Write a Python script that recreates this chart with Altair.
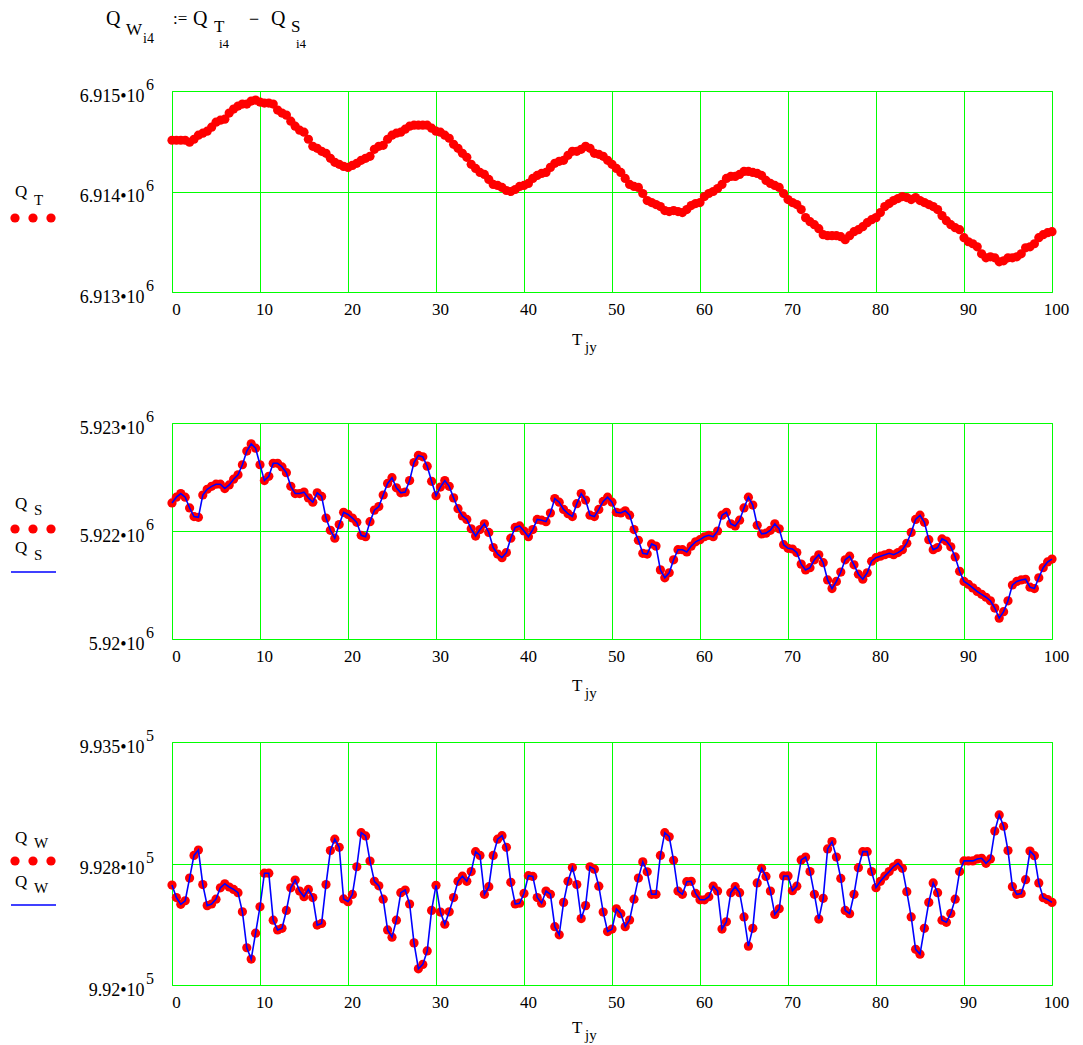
import altair as alt
import pandas as pd

# ---------------- data ----------------
t_jy = [k * 0.5 for k in range(201)]

QT = [
    6914510, 6914510, 6914510, 6914510, 6914490, 6914520, 6914560, 6914580, 6914600, 6914640,
    6914690, 6914710, 6914720, 6914780, 6914820, 6914850, 6914870, 6914870, 6914900, 6914910,
    6914890, 6914880, 6914880, 6914870, 6914810, 6914780, 6914760, 6914700, 6914650, 6914610,
    6914590, 6914520, 6914450, 6914430, 6914400, 6914380, 6914330, 6914290, 6914270, 6914250,
    6914240, 6914260, 6914280, 6914310, 6914330, 6914350, 6914420, 6914450, 6914460, 6914520,
    6914560, 6914580, 6914590, 6914620, 6914650, 6914660, 6914660, 6914660, 6914660, 6914630,
    6914600, 6914590, 6914560, 6914530, 6914470, 6914430, 6914380, 6914340, 6914270, 6914230,
    6914190, 6914170, 6914120, 6914070, 6914060, 6914040, 6914010, 6914000, 6914020, 6914050,
    6914060, 6914080, 6914130, 6914160, 6914180, 6914190, 6914240, 6914280, 6914300, 6914310,
    6914360, 6914400, 6914400, 6914420, 6914450, 6914430, 6914380, 6914370, 6914350, 6914310,
    6914270, 6914230, 6914190, 6914130, 6914070, 6914050, 6914040, 6913980, 6913910, 6913890,
    6913870, 6913850, 6913810, 6913800, 6913810, 6913800, 6913790, 6913820, 6913860, 6913880,
    6913890, 6913950, 6913980, 6914000, 6914030, 6914070, 6914130, 6914150, 6914150, 6914170,
    6914200, 6914200, 6914190, 6914180, 6914160, 6914110, 6914080, 6914060, 6914040, 6913980,
    6913920, 6913890, 6913870, 6913820, 6913740, 6913700, 6913670, 6913630, 6913570, 6913560,
    6913560, 6913560, 6913550, 6913520, 6913560, 6913600, 6913620, 6913650, 6913690, 6913720,
    6913740, 6913790, 6913850, 6913880, 6913910, 6913930, 6913950, 6913940, 6913920, 6913940,
    6913910, 6913890, 6913870, 6913850, 6913820, 6913760, 6913710, 6913670, 6913640, 6913620,
    6913540, 6913500, 6913480, 6913450, 6913380, 6913340, 6913350, 6913340, 6913300, 6913310,
    6913340, 6913340, 6913350, 6913380, 6913440, 6913450, 6913480, 6913540, 6913570, 6913590,
    6913600,
]

QS = [
    5921890, 5921970, 5922020, 5921970, 5921820, 5921700, 5921690, 5922000, 5922080, 5922120,
    5922150, 5922150, 5922090, 5922140, 5922220, 5922280, 5922420, 5922610, 5922710, 5922650,
    5922420, 5922200, 5922260, 5922440, 5922440, 5922390, 5922310, 5922120, 5922020, 5922020,
    5922040, 5921960, 5921900, 5922030, 5921980, 5921680, 5921510, 5921400, 5921590, 5921760,
    5921730, 5921680, 5921620, 5921440, 5921420, 5921630, 5921790, 5921840, 5922000, 5922160,
    5922240, 5922100, 5922030, 5922040, 5922200, 5922450, 5922550, 5922530, 5922400, 5922190,
    5921990, 5922110, 5922200, 5922120, 5921960, 5921810, 5921710, 5921660, 5921530, 5921430,
    5921520, 5921600, 5921480, 5921270, 5921180, 5921130, 5921200, 5921400, 5921550, 5921570,
    5921500, 5921420, 5921520, 5921660, 5921650, 5921630, 5921750, 5921950, 5921900, 5921800,
    5921740, 5921700, 5921880, 5922020, 5921930, 5921720, 5921700, 5921800, 5921910, 5921970,
    5921900, 5921760, 5921750, 5921780, 5921720, 5921520, 5921370, 5921190, 5921180, 5921320,
    5921290, 5920960, 5920850, 5920920, 5921100, 5921240, 5921240, 5921210, 5921290, 5921350,
    5921380, 5921420, 5921440, 5921420, 5921500, 5921720, 5921760, 5921600, 5921570, 5921650,
    5921820, 5921970, 5921860, 5921580, 5921460, 5921470, 5921510, 5921600, 5921530, 5921310,
    5921260, 5921250, 5921200, 5921040, 5920960, 5920990, 5921100, 5921170, 5921060, 5920820,
    5920700, 5920800, 5920930, 5921100, 5921150, 5921030, 5920900, 5920830, 5920920, 5921080,
    5921130, 5921150, 5921170, 5921190, 5921170, 5921200, 5921240, 5921330, 5921480, 5921660,
    5921720, 5921620, 5921380, 5921240, 5921270, 5921390, 5921360, 5921280, 5921140, 5920940,
    5920800, 5920760, 5920710, 5920660, 5920620, 5920580, 5920530, 5920430, 5920290, 5920380,
    5920530, 5920750, 5920800, 5920820, 5920830, 5920720, 5920700, 5920850, 5920990, 5921070,
    5921110,
]

QW = [
    992617, 992540, 992498, 992520, 992660, 992800, 992833, 992620, 992490, 992500,
    992530, 992600, 992625, 992605, 992590, 992570, 992452, 992230, 992160, 992320,
    992483, 992690, 992690, 992400, 992340, 992350, 992460, 992600, 992648, 992580,
    992545, 992590, 992540, 992370, 992380, 992620, 992830, 992900, 992850, 992531,
    992514, 992559, 992730, 992940, 992920, 992765, 992640, 992612, 992530, 992340,
    992295, 992400, 992570, 992586, 992500, 992260, 992100, 992127, 992210, 992460,
    992615, 992450, 992375, 992452, 992540, 992640, 992672, 992640, 992700, 992823,
    992800, 992560, 992607, 992800, 992900, 992922, 992850, 992634, 992500, 992505,
    992565, 992675, 992670, 992540, 992505, 992580, 992560, 992360, 992310, 992510,
    992640, 992725, 992620, 992410, 992490, 992730, 992715, 992610, 992450, 992330,
    992345, 992470, 992440, 992360, 992401, 992530, 992660, 992760, 992699, 992560,
    992560, 992800, 992940, 992915, 992770, 992580, 992560, 992638, 992640, 992565,
    992526, 992526, 992545, 992610, 992580, 992345, 992390, 992570, 992607, 992570,
    992420, 992240, 992350, 992630, 992720, 992670, 992580, 992436, 992470, 992673,
    992673, 992582, 992610, 992772, 992790, 992700, 992560, 992407, 992535, 992840,
    992885, 992790, 992658, 992460, 992440, 992560, 992724, 992823, 992823, 992700,
    992601, 992640, 992672, 992700, 992730, 992751, 992720, 992576, 992420, 992220,
    992190, 992350, 992510, 992630, 992570, 992400, 992387, 992442, 992530, 992700,
    992766, 992766, 992766, 992778, 992782, 992751, 992778, 992950, 993050, 992980,
    992830, 992607, 992560, 992565, 992650, 992827, 992798, 992630, 992539, 992527,
    992510,
]

x_ticks = [0, 10, 20, 30, 40, 50, 60, 70, 80, 90, 100]

T_domain = [6913000, 6915000]
T_ticks = [6913000, 6914000, 6915000]
T_labels = ["6.913•10", "6.914•10", "6.915•10"]
T_exp = "6"

S_domain = [5920000, 5923000]
S_ticks = [5920000, 5921500, 5923000]
S_labels = ["5.92•10", "5.922•10", "5.923•10"]
S_exp = "6"

W_domain = [992000, 993500]
W_ticks = [992000, 992750, 993500]
W_labels = ["9.92•10", "9.928•10", "9.935•10"]
W_exp = "5"

# ---------------- style ----------------
FONT = "Liberation Serif"
GRID = "#00ff00"
BORDER = "#22cc22"
RED = "#ff0000"
BLUE = "#0000ff"
PW = 880
H1, H2, H3 = 201, 216, 243
GAP12, GAP23 = 129, 101   # distance between plot areas
BOTTOM_EXT = 71           # reserved space below each plot area
LEFT_EXT = 163            # reserved space left of each plot area
DOT = 85
one = pd.DataFrame({"k": [0]})


def label_expr(vals, labs):
    e = ""
    for v, l in zip(vals, labs):
        e += f"datum.value == {v} ? '{l}' : "
    return e + "''"


def txt(s, x, y, size=17):
    return alt.Chart(one).mark_text(
        font=FONT, fontSize=size, align="left", baseline="alphabetic", color="black"
    ).encode(x=alt.value(x), y=alt.value(y), text=alt.value(s))


def dot(x, y):
    return alt.Chart(one).mark_circle(size=DOT, color=RED, opacity=1).encode(
        x=alt.value(x), y=alt.value(y)
    )


def legend_dots(y):
    return [dot(-157, y), dot(-139, y), dot(-121, y)]


def legend_line(y):
    return alt.Chart(one).mark_rule(color=BLUE, strokeWidth=1.6).encode(
        x=alt.value(-161), x2=alt.value(-116), y=alt.value(y)
    )


def anchor(x, y):
    # invisible 1px box that fixes an edge of a panel's bounds
    return alt.Chart(one).mark_rect(opacity=0).encode(
        x=alt.value(x), x2=alt.value(x + 1), y=alt.value(y), y2=alt.value(y + 1)
    )


def xtitle(h, dy):
    return [txt("T", 400, h + dy, 17), txt("jy", 413, h + dy + 7, 15)]


def panel(df, col, domain, ticks, labels, exp, h, with_line, extra, top_ext, tdy):
    x = alt.X(
        "t:Q",
        scale=alt.Scale(domain=[0, 100], nice=False, zero=False),
        axis=alt.Axis(
            values=x_ticks, title=None, grid=True, gridColor=GRID, gridOpacity=1,
            domain=False, ticks=False, labelFlush=False, labelPadding=9,
            labelOffset=4, labelFont=FONT, labelFontSize=17, labelColor="black",
            labelAngle=0, format="d",
        ),
    )
    y = alt.Y(
        f"{col}:Q",
        scale=alt.Scale(domain=domain, nice=False, zero=False),
        axis=alt.Axis(
            values=ticks, labelExpr=label_expr(ticks, labels), title=None,
            grid=True, gridColor=GRID, gridOpacity=1, domain=False, ticks=False,
            labelPadding=28, labelOffset=10, labelFont=FONT, labelFontSize=18,
            labelColor="black", labelBaseline="alphabetic",
        ),
    )
    base = alt.Chart(df)
    layers = [base.mark_circle(size=DOT, color=RED, opacity=1).encode(x=x, y=y)]
    if with_line:
        layers.append(base.mark_line(color=BLUE, strokeWidth=1.6).encode(x=x, y=y))
    # exponents of the tick labels, placed on the same y scale as the ticks
    exp_df = pd.DataFrame({col: ticks})
    layers.append(
        alt.Chart(exp_df).mark_text(
            font=FONT, fontSize=16, align="left", baseline="alphabetic", color="black", dy=-1
        ).encode(x=alt.value(-26), y=alt.Y(f"{col}:Q"), text=alt.value(exp))
    )
    layers += extra + xtitle(h, tdy)
    layers += [anchor(-LEFT_EXT, -top_ext), anchor(0, h + BOTTOM_EXT - 1)]
    return alt.layer(*layers).properties(width=PW, height=h)


dfT = pd.DataFrame({"t": t_jy, "QT": QT})
dfS = pd.DataFrame({"t": t_jy, "QS": QS})
dfW = pd.DataFrame({"t": t_jy, "QW": QW})

title_parts = [
    txt("Q", -66, -66, 20), txt("W", -46, -56, 17), txt("i4", -29, -48, 14),
    txt(":=", 1, -67, 17),
    txt("Q", 21, -66, 20), txt("T", 42, -59, 17), txt("i4", 47, -43, 13),
    txt("−", 77, -66, 18),
    txt("Q", 99, -66, 20), txt("S", 119, -59, 17), txt("i4", 124, -43, 13),
]

p1_extra = title_parts + [txt("Q", -157, 106, 17), txt("T", -138, 114, 15)] + legend_dots(127)
p2_extra = [
    txt("Q", -157, 86, 17), txt("S", -138, 92, 15),
    *legend_dots(106),
    txt("Q", -157, 130, 17), txt("S", -138, 137, 15),
    legend_line(149),
]
p3_extra = [
    txt("Q", -157, 101, 17), txt("W", -138, 106, 15),
    *legend_dots(119),
    txt("Q", -157, 145, 17), txt("W", -138, 151, 15),
    legend_line(163),
]

p1 = panel(dfT, "QT", T_domain, T_ticks, T_labels, T_exp, H1, False, p1_extra, 82, 53)
p2 = panel(dfS, "QS", S_domain, S_ticks, S_labels, S_exp, H2, True, p2_extra, GAP12 - BOTTOM_EXT, 52)
p3 = panel(dfW, "QW", W_domain, W_ticks, W_labels, W_exp, H3, True, p3_extra, GAP23 - BOTTOM_EXT, 48)

chart = (
    alt.vconcat(p1, p2, p3, spacing=0)
    .properties(padding=0, background="white")
    .configure_view(stroke=BORDER, strokeWidth=1)
)

chart.save("out.html", embed_options={"renderer": "svg", "actions": False})
